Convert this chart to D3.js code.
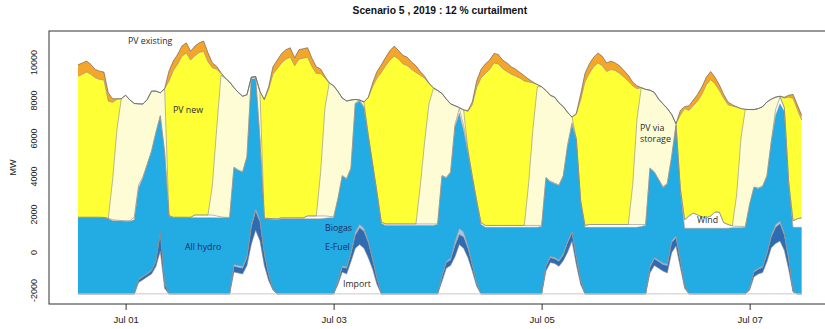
<!DOCTYPE html>
<html>
<head>
<meta charset="utf-8">
<script src="https://cdn.jsdelivr.net/npm/d3@7"></script>
<style>
  body { margin: 0; background: #fff; }
  svg text { font-family: "Liberation Sans", Arial, sans-serif; }
  .lbl { font-family: "Open Sans", sans-serif; font-size: 8.8px; fill: #2a2a2a; }
  .lbl.dark { fill: #1d2d5c; }
</style>
</head>
<body>
<div id="chart"></div>
<script>
// hourly values, first hour = Jun 30 13:00, last = Jul 07 12:00 (MW)
// rows: [-11..0], [1..24], [25..48], [49..72], [73..96], [97..120], [121..144], [145..156]
const importMW = [
  0,0,0,0,0,0,0,0,0,0,0,0,
  0,0,600,750,900,1050,1450,2250,300,0,0,0,0,0,0,0,0,0,0,0,0,0,0,0,
  1150,1100,1050,1500,2600,3350,2800,1500,700,200,0,0,0,0,0,0,0,0,0,0,0,0,0,0,
  500,1150,1050,1700,2400,2600,2400,1900,1300,500,0,0,0,0,0,0,0,0,0,0,0,0,0,0,
  650,1350,1500,1950,2600,2400,1900,1200,400,0,0,0,0,0,0,0,0,0,0,0,0,0,0,0,
  1200,1650,1600,1450,1750,2200,2780,1550,500,0,0,0,0,0,0,0,0,0,0,0,0,0,0,0,
  1100,1500,1350,1200,1100,2170,2520,1400,300,0,0,0,0,0,0,0,0,0,0,0,0,0,0,200,
  900,1050,1120,1700,2430,2650,2780,2300,1300,100,0,0
];
const eFuel = [
  0,0,0,0,0,0,0,0,0,0,0,0,
  0,0,150,150,150,170,250,970,250,0,0,0,0,0,0,0,0,0,0,0,0,0,0,0,
  300,300,300,400,900,1000,1000,600,300,50,0,0,0,0,0,0,0,0,0,0,0,0,0,0,
  150,250,300,400,700,880,900,800,500,300,0,0,0,0,0,0,0,0,0,0,0,0,0,0,
  250,300,300,600,530,600,500,300,150,0,0,0,0,0,0,0,0,0,0,0,0,0,0,0,
  250,250,250,270,300,500,440,350,200,0,0,0,0,0,0,0,0,0,0,0,0,0,0,0,
  300,350,350,350,400,530,440,350,100,0,0,0,0,0,0,0,0,0,0,0,0,0,0,100,
  250,250,280,400,570,850,920,800,500,50,0,0
];
const biogas = [
  0,0,0,0,0,0,0,0,0,0,0,0,
  0,0,30,30,30,30,40,60,30,0,0,0,0,0,0,0,0,0,0,0,0,0,0,0,
  100,100,100,100,120,130,100,100,50,0,0,0,0,0,0,0,0,0,0,0,0,0,0,0,
  50,80,70,80,150,180,150,100,70,50,0,0,0,0,0,0,0,0,0,0,0,0,0,0,
  50,70,80,200,320,250,150,50,30,0,0,0,0,0,0,0,0,0,0,0,0,0,0,0,
  50,70,70,60,70,80,80,50,50,0,0,0,0,0,0,0,0,0,0,0,0,0,0,0,
  70,70,70,70,70,80,90,50,20,0,0,0,0,0,0,0,0,0,0,0,0,0,0,20,
  50,50,50,70,100,150,130,100,100,10,0,0
];
const allHydro = [
  4010,4010,4010,4010,4010,4010,4000,3950,3850,3830,3830,3820,
  3820,3900,4810,5180,5730,6260,6740,6070,6860,4100,4010,4010,4010,4010,4010,4010,4010,4010,4010,4010,4000,4000,4000,4000,
  5090,5000,4950,5200,7680,6850,4200,1750,2890,3680,3920,3950,3950,3950,3950,3950,3950,3950,3950,3950,3950,3980,4000,4000,
  4300,4720,4630,4420,6750,6490,6350,5500,4930,4450,3700,3600,3600,3600,3600,3600,3600,3600,3600,3600,3600,3600,3600,3650,
  5250,4380,4520,6050,6050,5350,4850,4550,4270,3650,3500,3500,3500,3500,3500,3500,3500,3500,3500,3500,3500,3500,3500,3550,
  4600,3930,3880,3920,4080,5020,5600,6150,4100,3500,3500,3500,3500,3500,3500,3500,3500,3500,3500,3500,3500,3500,3550,3600,
  5130,4480,4230,3980,4230,4420,5800,3650,3030,3450,3450,3450,3450,3450,3450,3450,3450,3450,3450,3480,3480,3480,3500,4380,
  4400,4200,4200,4030,4900,5750,6170,6400,3900,3340,3500,3500
];
const wind = [
  20,20,20,20,20,20,20,30,50,50,30,30,
  30,150,160,50,30,30,30,30,30,20,20,20,20,20,20,140,140,140,140,140,100,50,30,30,
  30,30,30,30,70,70,30,30,30,30,30,50,50,50,50,50,50,150,150,150,150,120,80,50,
  30,30,30,30,50,40,50,30,30,50,70,80,80,80,80,80,80,80,80,80,80,80,80,30,
  30,30,30,100,250,250,150,80,70,100,100,100,100,100,100,100,100,100,100,100,100,100,100,50,
  30,30,30,30,30,50,100,50,50,100,150,150,150,150,150,150,150,150,150,150,150,150,100,50,
  30,30,30,30,30,30,50,100,450,650,800,700,600,550,650,850,850,300,200,100,70,70,50,30,
  30,30,30,30,50,300,350,200,100,350,450,500
];
const pvStorage = [
  0,0,0,0,0,0,0,0,2100,4770,6410,6600,
  6350,5970,4250,3830,3390,3130,2160,1200,3330,0,0,0,0,0,0,0,0,0,0,1520,4550,7450,7320,7120,
  4180,4070,3970,3250,30,40,2520,0,0,0,0,0,0,0,0,0,0,0,0,0,2300,5700,7020,6900,
  5620,4070,4070,3570,180,10,250,0,0,0,0,0,0,0,0,0,0,0,0,2020,4320,6320,7120,7020,
  4320,4120,3570,1000,50,830,0,0,0,0,0,0,0,0,0,0,0,0,0,0,2200,5100,7300,7300,
  4570,4520,4520,4320,3620,1700,300,0,0,0,0,0,0,0,0,0,0,0,0,0,2050,5550,7200,7110,
  4090,4170,4220,4370,3920,2220,50,0,0,0,0,0,0,0,0,0,0,0,0,0,1650,4650,6160,4970,
  4070,4170,4170,3870,2200,650,50,0,0,0,0,0
];
const pvNew = [
  7420,7520,7640,7520,7340,7250,7230,6160,4080,1590,0,0,
  0,0,0,0,0,0,0,0,0,7070,7720,8050,8470,8650,8270,8380,8550,8610,8070,6230,3170,100,0,0,
  0,0,0,0,0,0,0,6220,6780,7590,7900,8150,8350,8450,8000,8350,8400,8350,7850,7500,5200,1550,0,0,
  0,0,0,0,0,0,0,1990,4070,6000,7880,8320,8620,8820,8670,8420,8320,8120,7970,5800,3350,1050,50,0,
  0,0,0,0,0,0,2050,3770,5930,7600,8000,8200,8550,8500,8250,8100,7950,7850,7750,7600,5350,2400,100,0,
  0,0,0,0,0,0,0,1300,5300,7550,7950,8300,8500,8350,8050,8150,8100,7950,7750,7550,5250,1600,0,0,
  0,0,0,0,0,0,0,3850,5850,5550,5650,6000,6450,7000,7170,6750,6400,6550,6300,6300,4620,1550,0,0,
  0,0,0,0,0,0,0,500,4450,6450,5750,5150
];
const pvExisting = [
  600,600,580,520,440,440,420,440,190,30,0,0,
  0,0,0,0,0,0,0,0,0,530,500,520,540,530,470,510,510,540,470,260,160,40,0,0,
  0,0,0,0,0,0,0,50,150,400,450,500,500,500,420,500,500,500,450,350,230,100,0,0,
  0,0,0,0,0,0,0,30,200,350,400,450,500,540,450,450,450,400,350,200,100,50,0,0,
  0,0,0,0,0,0,50,150,350,450,500,500,500,500,450,450,400,370,300,280,150,50,20,0,
  0,0,0,0,0,0,0,50,300,450,500,500,530,500,450,450,400,400,350,300,200,150,0,0,
  0,0,0,0,0,0,0,250,100,250,300,350,400,400,430,350,300,200,150,70,30,0,0,0,
  0,0,0,0,0,0,0,50,100,200,250,250
];
const importBaseline = -2200;

const seriesNames = ["Import", "E-Fuel", "Biogas", "All hydro", "Wind", "PV via storage", "PV new", "PV existing"];
const seriesValues = [importMW, eFuel, biogas, allHydro, wind, pvStorage, pvNew, pvExisting];
const seriesColors = ["#ffffff", "#2f6bb3", "#a9c6e6", "#23abe4", "#ffffff", "#fefcd4", "#ffff36", "#f5a52a"];

const dateTicks = [new Date(2019, 6, 1), new Date(2019, 6, 3), new Date(2019, 6, 5), new Date(2019, 6, 7)];
const yTicks = [-2000, 0, 2000, 4000, 6000, 8000, 10000];

const W = 825, H = 329;
const plot = { left: 49, top: 31, right: 830.6, bottom: 304 };

const startTime = new Date(2019, 5, 30, 13);
const times = d3.range(importMW.length).map(i => d3.timeHour.offset(startTime, i));

const rows = times.map((t, i) => {
  const r = { t };
  seriesNames.forEach((k, j) => r[k] = seriesValues[j][i]);
  return r;
});
const stacked = d3.stack().keys(seriesNames)(rows);
const maxTotal = d3.max(stacked[stacked.length - 1], d => d[1]) + importBaseline;

// R-style 4% axis padding
const tPad = 0.04 * (times[times.length - 1] - times[0]);
const x = d3.scaleTime()
  .domain([new Date(+times[0] - tPad), new Date(+times[times.length - 1] + tPad)])
  .range([plot.left, plot.right]);
const vPad = 0.04 * (maxTotal - importBaseline);
const y = d3.scaleLinear()
  .domain([importBaseline - vPad, maxTotal + vPad])
  .range([plot.bottom, plot.top]);

const svg = d3.select("#chart").append("svg")
  .attr("width", W).attr("height", H);

svg.append("rect").attr("width", W).attr("height", H).attr("fill", "#fff");

const area = d3.area()
  .x(d => x(d.data.t))
  .y0(d => y(importBaseline + d[0]))
  .y1(d => y(importBaseline + d[1]));

const topLine = d3.line()
  .x(d => x(d.data.t))
  .y(d => y(importBaseline + d[1]));

const layers = svg.append("g");
stacked.forEach((s, i) => {
  layers.append("path").attr("d", area(s)).attr("fill", seriesColors[i]);
});
stacked.forEach((s, i) => {
  layers.append("path").attr("d", topLine(s))
    .attr("fill", "none")
    .attr("stroke", i === 7 ? "#555" : "#8a8a8a")
    .attr("stroke-width", 0.6);
});
// baseline of the import area
layers.append("path")
  .attr("d", d3.line().x(d => x(d.data.t)).y(d => y(importBaseline + d[0]))(stacked[0]))
  .attr("fill", "none").attr("stroke", "#c8c8c8").attr("stroke-width", 1);

// box
svg.append("rect")
  .attr("x", plot.left).attr("y", plot.top)
  .attr("width", plot.right - plot.left).attr("height", plot.bottom - plot.top)
  .attr("fill", "none").attr("stroke", "#333").attr("stroke-width", 1);

// x axis
const xAxis = svg.append("g")
  .attr("transform", `translate(0,${plot.bottom})`)
  .call(d3.axisBottom(x).tickValues(dateTicks).tickFormat(d3.timeFormat("%b %d")).tickSize(6).tickPadding(6));
xAxis.select(".domain").remove();
xAxis.selectAll("line").attr("stroke", "#333");
xAxis.selectAll("text").attr("font-size", 9.5).attr("fill", "#222");

// y axis, labels parallel to the axis
const yAxis = svg.append("g")
  .attr("transform", `translate(${plot.left},0)`)
  .call(d3.axisLeft(y).tickValues(yTicks).tickSize(0).tickFormat(d => String(d)));
yAxis.select(".domain").remove();
yAxis.selectAll("text")
  .attr("x", null).attr("dy", null)
  .attr("transform", "translate(-12,0) rotate(-90)")
  .attr("text-anchor", "middle")
  .attr("font-size", 9).attr("fill", "#222");

svg.append("text")
  .attr("transform", `translate(16,${(plot.top + plot.bottom) / 2}) rotate(-90)`)
  .attr("text-anchor", "middle").attr("font-size", 9).attr("fill", "#222")
  .text("MW");

svg.append("text")
  .attr("x", (plot.left + plot.right) / 2).attr("y", 13.5)
  .attr("text-anchor", "middle").attr("font-size", 10.3).attr("font-weight", "bold").attr("fill", "#111")
  .text("Scenario 5 , 2019 : 12 % curtailment");

// in-chart labels
const labels = [
  { text: "PV existing", x: 128, y: 44, cls: "lbl" },
  { text: "PV new", x: 173, y: 113, cls: "lbl" },
  { text: "PV via", x: 640, y: 131, cls: "lbl" },
  { text: "storage", x: 640, y: 141.5, cls: "lbl" },
  { text: "Wind", x: 697, y: 223, cls: "lbl" },
  { text: "All hydro", x: 185, y: 250, cls: "lbl dark" },
  { text: "Biogas", x: 325, y: 231, cls: "lbl dark" },
  { text: "E-Fuel", x: 325, y: 250, cls: "lbl dark" },
  { text: "Import", x: 343, y: 287, cls: "lbl" }
];
svg.selectAll("text.lbl").data(labels).join("text")
  .attr("class", d => d.cls)
  .attr("x", d => d.x).attr("y", d => d.y)
  .text(d => d.text);
</script>
</body>
</html>
